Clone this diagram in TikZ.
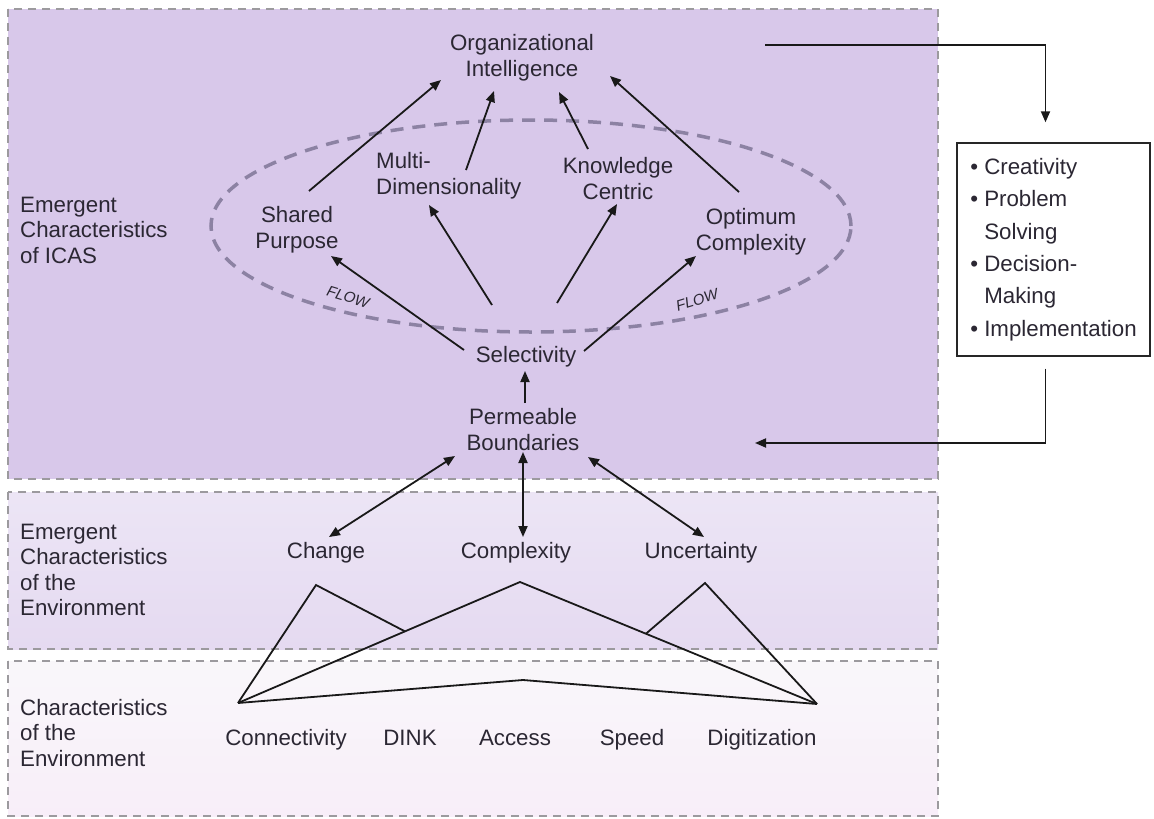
\documentclass[tikz,border=0pt]{standalone}
\usepackage{fontspec}
\setmainfont{Liberation Sans}
\usetikzlibrary{arrows.meta,calc}
\definecolor{icasfill}{HTML}{D8C8EA}
\definecolor{envtop}{HTML}{ECE5F5}
\definecolor{envbot}{HTML}{E5DAF1}
\definecolor{basetop}{HTML}{F9F7FA}
\definecolor{basebot}{HTML}{F8EEF9}
\definecolor{panelline}{HTML}{9C9A9E}
\definecolor{ringline}{HTML}{8C82A3}
\definecolor{ink}{HTML}{2B2733}
\begin{document}
\begin{tikzpicture}[x=1pt,y=-1pt,
  lbl/.style={font=\fontsize{22.3}{25.5}\selectfont, text=ink, inner sep=0pt, align=center},
  one/.style={lbl, text height=16pt, text depth=4.5pt},
  side/.style={lbl, align=left, anchor=west},
  arr/.style={draw=black!90, line width=1.8pt, -{Triangle[length=11pt,width=9pt]}},
  darr/.style={draw=black!90, line width=1.8pt, {Triangle[length=11pt,width=9pt]}-{Triangle[length=11pt,width=9pt]}},
  tree/.style={draw=black!90, line width=1.8pt, line join=miter},
  panel/.style={draw=panelline, line width=1.6pt, dash pattern=on 8pt off 6pt},
  ring/.style={draw=ringline, line width=3.5pt, dash pattern=on 13pt off 9pt},
  flow/.style={font=\fontsize{15}{15}\selectfont\itshape, text=ink, inner sep=0pt},
  listbox/.style={draw=black!85, line width=1.4pt, fill=white, minimum width=193pt, minimum height=213pt,
    align=left, font=\fontsize{22.3}{32.4}\selectfont, text=ink, inner sep=0pt}]

\useasboundingbox (0,0) rectangle (1154,819);
\fill[white] (0,0) rectangle (1154,819);

% three bands
\path[panel, fill=icasfill] (8,9) rectangle (938,479);
\path[panel, top color=envtop, bottom color=envbot] (8,492) rectangle (938,649);
\path[panel, top color=basetop, bottom color=basebot] (8,661) rectangle (938,816);

% band titles
\node[side] (t1) at (20,230) {Emergent\\Characteristics\\of ICAS};
\node[side] (t2) at (20,570) {Emergent\\Characteristics\\of the\\Environment};
\node[side] (t3) at (20,733) {Characteristics\\of the\\Environment};

% dashed ring of ICAS properties
\draw[ring] (531,226) ellipse [x radius=320pt, y radius=106pt];
\node[flow, rotate=-17] (flowL) at (348,297) {FLOW};
\node[flow, rotate=17] (flowR) at (697,300) {FLOW};

% ICAS nodes
\node[lbl] (oi) at (522,57.5) {Organizational\\Intelligence};
\node[lbl, align=left, anchor=west] (md) at (376,175.5) {Multi-\\Dimensionality};
\node[lbl] (kc) at (618,178.5) {Knowledge\\Centric};
\node[lbl] (sp) at (297,229.5) {Shared\\Purpose};
\node[lbl] (oc) at (751,231.5) {Optimum\\Complexity};
\node[one] (sel) at (526,357) {Selectivity};
\node[lbl] (pb) at (523,429.5) {Permeable\\Boundaries};

% environment nodes
\node[one] (chg) at (326,553) {Change};
\node[one] (cpx) at (516,553) {Complexity};
\node[one] (unc) at (701,553) {Uncertainty};

\node[one] (con) at (286,740) {Connectivity};
\node[one] (dink) at (410,740) {DINK};
\node[one] (acc) at (515,740) {Access};
\node[one] (spd) at (632,740) {Speed};
\node[one] (dig) at (762,740) {Digitization};

% outcome list
\node[listbox] (box) at (1053.5,249.5) {\textbullet\ Creativity\\\textbullet\ Problem\\\hphantom{\textbullet\ }Solving\\\textbullet\ Decision-\\\hphantom{\textbullet\ }Making\\\textbullet\ Implementation};

% arrows into organizational intelligence
\draw[arr] ($(sp)+(12,-38.5)$) -- ($(oi)+(-81,22.5)$);
\draw[arr] ($(md.west)+(90,-5.5)$) -- ($(oi)+(-28,33.5)$);
\draw[arr] ($(kc)+(-30,-29.5)$) -- ($(oi)+(37,34.5)$);
\draw[arr] ($(oc)+(-12,-39.5)$) -- ($(oi)+(88,18.5)$);

% arrows out of selectivity
\draw[arr] ($(sel)+(-62,-7)$) -- ($(sp)+(34,26.5)$);
\draw[arr] ($(sel)+(-34,-52)$) -- ($(md.west)+(53,29.5)$);
\draw[arr] ($(sel)+(31,-54)$) -- ($(kc)+(-1,25.5)$);
\draw[arr] ($(sel)+(58,-6)$) -- ($(oc)+(-55,24.5)$);
\draw[arr] ($(pb)+(2,-26.5)$) -- ($(sel)+(-1,14)$);

% boundaries to environment
\draw[darr] ($(pb)+(-68,26.5)$) -- ($(chg)+(3,-16)$);
\draw[darr] ($(pb)+(0,22.5)$) -- ($(cpx)+(7,-16)$);
\draw[darr] ($(pb)+(65,27.5)$) -- ($(unc)+(3,-16)$);

% tree linking environment characteristics
\coordinate (apL) at ($(con)+(-48,-37)$);
\coordinate (apR) at ($(dig)+(55,-36)$);
\coordinate (pkCh) at ($(chg)+(-10,32)$);
\coordinate (pkCx) at ($(cpx)+(4,29)$);
\coordinate (pkUn) at ($(unc)+(4,30)$);
\coordinate (pkAc) at ($(acc)+(8,-60)$);
\draw[tree] (apL) -- (pkCh) -- ($(apL)!0.592!(pkCx)$);
\draw[tree] (apL) -- (pkCx) -- (apR);
\draw[tree] (apL) -- (pkAc) -- (apR);
\draw[tree] ($(pkCx)!0.424!(apR)$) -- (pkUn) -- (apR);

% loop through the outcome list
\draw[arr, shorten >=20pt] ($(oi)+(243,-12.5)$) -| ($(box.north)+(-8,0)$);
\draw[arr] ($(box.south)+(-8,12)$) |- ($(pb)+(232,13.5)$);
\end{tikzpicture}
\end{document}
